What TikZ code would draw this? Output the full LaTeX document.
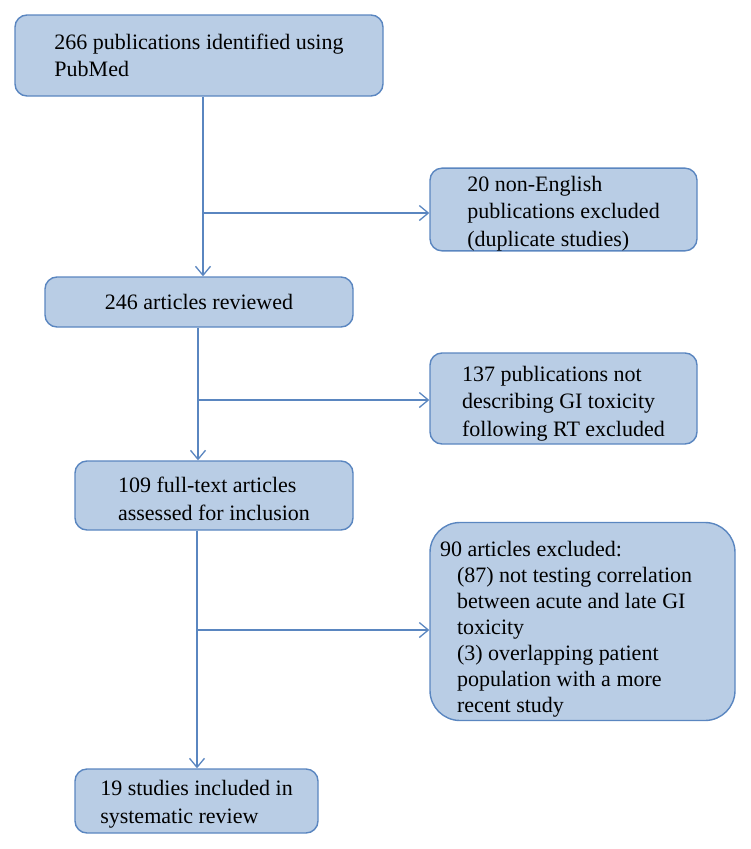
\documentclass[tikz,border=0pt]{standalone}
\usepackage{fontspec}
\setmainfont{Liberation Serif}
\usetikzlibrary{arrows.meta}
\definecolor{boxfill}{HTML}{B9CDE5}
\definecolor{boxline}{HTML}{5A86C0}
\begin{document}
\begin{tikzpicture}[
    x=1pt, y=-1pt,
    stagebox/.style={rectangle, rounded corners=12pt, draw=boxline, fill=boxfill, line width=1.4pt,
      align=left, inner sep=0pt, font=\fontsize{22}{27.5}\selectfont},
    flow/.style={draw=boxline, line width=1.3pt, -{Straight Barb[length=9pt,width=15pt,line width=1.3pt]}}
  ]
  \useasboundingbox (0,0) rectangle (750,849);

  %Nodes
  \node[stagebox, minimum width=368pt, minimum height=81pt] at (199,55.5) (A) {266 publications identified using\\PubMed};
  \node[stagebox, minimum width=267pt, minimum height=81pt] at (563.5,209.5) (B) {\rule{0pt}{23pt}20 non-English\\publications excluded\\(duplicate studies)};
  \node[stagebox, minimum width=308pt, minimum height=50pt] at (199,302) (C) {246 articles reviewed};
  \node[stagebox, minimum width=267pt, minimum height=91pt] at (563.5,398.5) (D) {\rule{0pt}{25.5pt}137 publications not\\describing GI toxicity\\following RT excluded};
  \node[stagebox, minimum width=278pt, minimum height=69pt] at (214,495.5) (E) {\rule{0pt}{22pt}109 full-text articles\\assessed for inclusion};
  \node[stagebox, rounded corners=30pt, minimum width=305pt, minimum height=197pt,
    text width=285pt, inner xsep=10pt, align=flush left, font=\fontsize{22}{26}\selectfont]
    at (582.5,621.5) (F) {\rule{0pt}{34pt}90 articles excluded:\\
    \hspace*{17pt}(87) not testing correlation\\
    \hspace*{17pt}between acute and late GI\\
    \hspace*{17pt}toxicity\\
    \hspace*{17pt}(3) overlapping patient\\
    \hspace*{17pt}population with a more\\
    \hspace*{17pt}recent study\rule[-8pt]{0pt}{8pt}};
  \node[stagebox, minimum width=243pt, minimum height=64pt] at (196.5,801) (G) {\rule{0pt}{22pt}19 studies included in\\systematic review};

  %Branch points
  \coordinate (j1) at (203,213);
  \coordinate (j2) at (198,400);
  \coordinate (j3) at (197,630);

  %Lines
  \draw[flow] (A.south -| j1) -- (C.north -| j1);
  \draw[flow] (j1) -- (j1 -| B.west);
  \draw[flow] (C.south -| j2) -- (E.north -| j2);
  \draw[flow] (j2) -- (j2 -| D.west);
  \draw[flow] (E.south -| j3) -- (G.north -| j3);
  \draw[flow] (j3) -- (j3 -| F.west);

\end{tikzpicture}
\end{document}
